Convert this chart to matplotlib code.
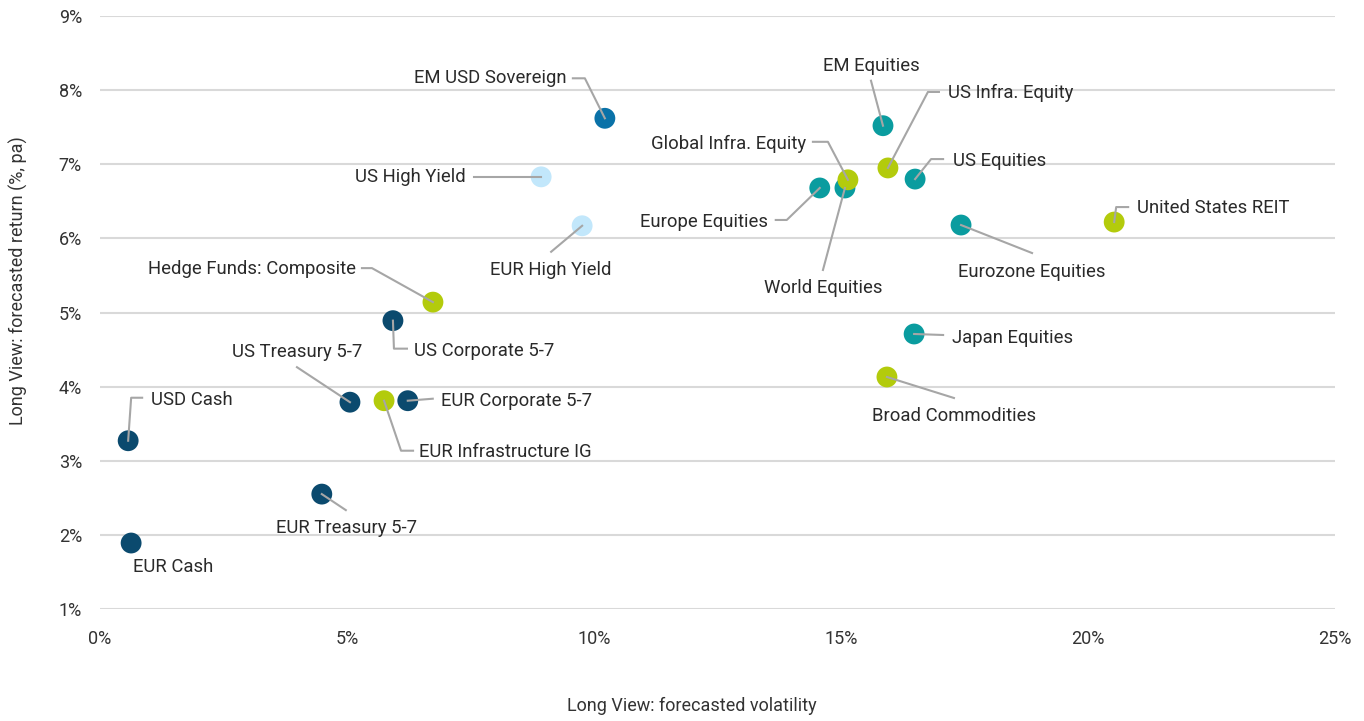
import numpy as np
import matplotlib
matplotlib.use("Agg")
import matplotlib.pyplot as plt

plt.rcParams['font.family'] = ['Roboto', 'DejaVu Sans']

# data: forecasted volatility (%), forecasted return (%)
names = ['EM USD Sovereign', 'US High Yield', 'EUR High Yield', 'Hedge Funds: Composite',
         'US Corporate 5-7', 'US Treasury 5-7', 'EUR Infrastructure IG', 'EUR Corporate 5-7',
         'USD Cash', 'EUR Treasury 5-7', 'EUR Cash', 'EM Equities', 'US Infra. Equity',
         'World Equities', 'Global Infra. Equity', 'Europe Equities', 'US Equities',
         'Eurozone Equities', 'United States REIT', 'Japan Equities', 'Broad Commodities']
vol = [10.22, 8.93, 9.76, 6.74, 5.93, 5.06, 5.75, 6.23, 0.57, 4.49, 0.63,
       15.85, 15.95, 15.08, 15.14, 14.57, 16.50, 17.43, 20.53, 16.48, 15.93]
ret = [7.62, 6.83, 6.17, 5.14, 4.89, 3.79, 3.81, 3.81, 3.27, 2.55, 1.89,
       7.52, 6.95, 6.68, 6.79, 6.68, 6.80, 6.18, 6.22, 4.71, 4.13]
group = ['em', 'hy', 'hy', 'alt', 'fi', 'fi', 'alt', 'fi', 'fi', 'fi', 'fi',
         'eq', 'alt', 'eq', 'alt', 'eq', 'eq', 'eq', 'alt', 'eq', 'alt']

colors = {'fi': '#0b4a6e', 'em': '#0a72a8', 'hy': '#c2e7fb', 'eq': '#0a9c9f', 'alt': '#b3cb0c'}

# label layout in pixel offsets from the point (image coords, y down):
# leader path vertices, then text position and alignment
layout = {
    'EM USD Sovereign': ([(-20, -40), (-32, -40)], (-38, -40), 'right'),
    'US High Yield': ([(-67, 0)], (-75, 0), 'right'),
    'EUR High Yield': ([(-31, 26)], (-31, 44), 'center'),
    'Hedge Funds: Composite': ([(-61, -34), (-71, -34)], (-77, -33), 'right'),
    'US Corporate 5-7': ([(1, 28), (14, 28)], (21, 30), 'left'),
    'US Treasury 5-7': ([(-53, -35)], (-53, -50), 'center'),
    'EUR Infrastructure IG': ([(17, 50), (29, 50)], (35, 51), 'left'),
    'EUR Corporate 5-7': ([(25, -2)], (33, 0), 'left'),
    'USD Cash': ([(3, -43), (14, -43)], (23, -41), 'left'),
    'EUR Treasury 5-7': ([(24, 16)], (25, 34), 'center'),
    'EUR Cash': ([], (2, 24), 'left'),
    'EM Equities': ([(-12, -45)], (-12, -60), 'center'),
    'US Infra. Equity': ([(40, -76), (51, -76)], (60, -75), 'left'),
    'World Equities': ([(-22, 82)], (-22, 100), 'center'),
    'Global Infra. Equity': ([(-20, -38), (-35, -38)], (-42, -36), 'right'),
    'Europe Equities': ([(-33, 32), (-44, 32)], (-52, 34), 'right'),
    'US Equities': ([(16, -20), (28, -20)], (38, -18), 'left'),
    'Eurozone Equities': ([(71, 28)], (71, 47), 'center'),
    'United States REIT': ([(2, -15), (14, -15)], (23, -14), 'left'),
    'Japan Equities': ([(29, 1)], (38, 4), 'left'),
    'Broad Commodities': ([(67, 21)], (67, 39), 'center'),
}

fig = plt.figure(figsize=(13.64, 7.21), dpi=100)
ax = fig.add_axes([100 / 1364, 1 - 609 / 721, 1235 / 1364, 593 / 721])
ax.set_xlim(0, 25)
ax.set_ylim(1, 9)

ax.set_yticks(range(1, 10))
ax.set_yticklabels([f'{i}%' for i in range(1, 10)])
ax.set_xticks(range(0, 26, 5))
ax.set_xticklabels([f'{i}%' for i in range(0, 26, 5)])
ax.grid(axis='y', color='#d9d9d9', linewidth=1.5)
ax.set_axisbelow(True)
for s in ax.spines.values():
    s.set_visible(False)
ax.tick_params(length=0, labelsize=13, colors='#333333')
ax.tick_params(axis='y', pad=13)
ax.tick_params(axis='x', pad=15)

for n, x, y, g in zip(names, vol, ret, group):
    ax.scatter(x, y, s=225, color=colors[g], edgecolors='none', zorder=3)

for n, x, y in zip(names, vol, ret):
    path, (tx, ty), ha = layout[n]
    p = ax.transData.transform((x, y))
    pts = [p] + [p + np.array([dx, -dy]) for dx, dy in path]
    inv = ax.transData.inverted()
    dpts = np.array([inv.transform(q) for q in pts])
    if len(path):
        ax.plot(dpts[:, 0], dpts[:, 1], color='#a6a6a6', linewidth=1.5, zorder=4, clip_on=False)
    t = inv.transform(p + np.array([tx, -ty]))
    ax.text(t[0], t[1], n, ha=ha, va='center', fontsize=13.3, color='#2a2a2a', zorder=5)

fig.text(18 / 1364, 1 - 281 / 721, 'Long View: forecasted return (%, pa)', rotation=90,
         ha='center', va='center', fontsize=13, color='#333333')
fig.text(692 / 1364, 1 - 706 / 721, 'Long View: forecasted volatility',
         ha='center', va='center', fontsize=13, color='#333333')

fig.savefig('out.png', dpi=100)
